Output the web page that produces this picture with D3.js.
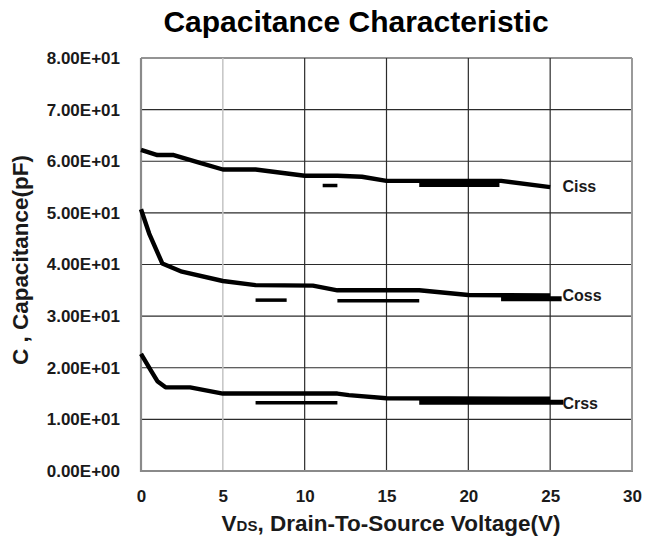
<!DOCTYPE html>
<html>
<head>
<meta charset="utf-8">
<script src="https://cdn.jsdelivr.net/npm/d3@7"></script>
<style>
  html, body { margin: 0; padding: 0; background: #fff; }
  svg { display: block; font-family: "Liberation Sans", Arial, sans-serif; }
</style>
</head>
<body>
<svg id="chart" width="659" height="538"></svg>
<script>
// ---- data ----
const xTicks = [0, 5, 10, 15, 20, 25, 30];
const yTicks = [0, 10, 20, 30, 40, 50, 60, 70, 80];
const yTickLabels = ["0.00E+00","1.00E+01","2.00E+01","3.00E+01","4.00E+01","5.00E+01","6.00E+01","7.00E+01","8.00E+01"];

const cissV = [0, 1, 2, 3.5, 5, 7, 10, 12, 13.5, 15, 22, 25];
const cissC = [62.2, 61.2, 61.2, 59.8, 58.4, 58.4, 57.2, 57.2, 57.0, 56.2, 56.2, 55.0];

const cossV = [0, 0.5, 1.3, 2.5, 5, 7, 10.5, 12, 17, 20, 25];
const cossC = [50.7, 46.0, 40.2, 38.6, 36.8, 36.0, 35.9, 35.0, 35.0, 34.1, 34.0];

const crssV = [0, 0.6, 1.0, 1.5, 3, 5, 12, 12.7, 15, 25];
const crssC = [22.7, 19.5, 17.4, 16.2, 16.2, 15.0, 15.0, 14.7, 14.1, 14.0];

// stray dash segments in the original plot: [startV, endV, C]
const cissDashes = [[11.1, 12.0, 55.3], [17.0, 21.9, 55.5]];
const cossDashes = [[7.0, 8.9, 33.1], [12.0, 17.0, 33.0], [22.0, 25.7, 33.35]];
const crssDashes = [[7.0, 12.0, 13.2], [17.0, 25.8, 13.3]];

const seriesNames = ["Ciss", "Coss", "Crss"];
const seriesLabelAt = [[25.75, 55.1], [25.75, 34.0], [25.75, 13.2]];

// ---- layout ----
const svg = d3.select("#chart");
const pL = 141, pR = 632, pT = 58, pB = 471;
const x = d3.scaleLinear().domain([0, 30]).range([pL, pR]);
const y = d3.scaleLinear().domain([0, 80]).range([pB, pT]);

// grid
const g = svg.append("g");
g.selectAll("line.hg").data(yTicks.slice(1)).join("line")
  .attr("x1", pL).attr("x2", pR)
  .attr("y1", d => y(d)).attr("y2", d => y(d))
  .attr("stroke", "#2b2b2b").attr("stroke-width", 1.2);
g.selectAll("line.vg").data(xTicks.slice(1, -1)).join("line")
  .attr("y1", pT).attr("y2", pB)
  .attr("x1", d => x(d)).attr("x2", d => x(d))
  .attr("stroke", d => d === 5 ? "#c4c4c4" : "#2b2b2b")
  .attr("stroke-width", d => d === 5 ? 1.5 : 1.2);
// border
g.append("line").attr("x1", pL).attr("x2", pL).attr("y1", pT).attr("y2", pB + 1)
  .attr("stroke", "#8a8a8a").attr("stroke-width", 2.2);
g.append("line").attr("x1", pL).attr("x2", pR + 1).attr("y1", pB).attr("y2", pB)
  .attr("stroke", "#8a8a8a").attr("stroke-width", 2.2);
g.append("line").attr("x1", pR).attr("x2", pR).attr("y1", pT).attr("y2", pB)
  .attr("stroke", "#9a9a9a").attr("stroke-width", 2);

// axes (labels only)
const yAxis = d3.axisLeft(y).tickValues(yTicks).tickFormat((d, i) => yTickLabels[i]).tickSize(0).tickPadding(0);
const ya = svg.append("g").attr("transform", "translate(120,0)").call(yAxis);
ya.select(".domain").remove();
ya.selectAll("text").attr("font-size", 17).attr("font-weight", "bold").attr("fill", "#1a1a1a")
  .attr("font-family", "Liberation Sans, Arial, sans-serif");

const xAxis = d3.axisBottom(x).tickValues(xTicks).tickFormat(d3.format("d")).tickSize(0).tickPadding(0);
const xa = svg.append("g").attr("transform", "translate(0,490)").call(xAxis);
xa.select(".domain").remove();
xa.selectAll("text").attr("font-size", 17).attr("font-weight", "bold").attr("fill", "#1a1a1a")
  .attr("font-family", "Liberation Sans, Arial, sans-serif");

// series lines
const line = d3.line().x(d => x(d[0])).y(d => y(d[1]));
const series = [
  d3.zip(cissV, cissC),
  d3.zip(cossV, cossC),
  d3.zip(crssV, crssC)
];
svg.append("g").selectAll("path").data(series).join("path")
  .attr("d", line).attr("fill", "none").attr("stroke", "#000")
  .attr("stroke-width", 4.4).attr("stroke-linejoin", "round");

// stray dashes
const dashSets = [cissDashes, cossDashes, crssDashes];
const dashWidths = [[3.5, 5], [3.5, 3.5, 5], [3.5, 5]];
dashSets.forEach((set, si) => {
  svg.append("g").selectAll("line").data(set).join("line")
    .attr("x1", d => x(d[0])).attr("x2", d => x(d[1]))
    .attr("y1", d => y(d[2])).attr("y2", d => y(d[2]))
    .attr("stroke", "#000").attr("stroke-width", (d, i) => dashWidths[si][i]);
});

// series labels
svg.append("g").selectAll("text").data(seriesNames).join("text")
  .attr("x", (d, i) => x(seriesLabelAt[i][0]))
  .attr("y", (d, i) => y(seriesLabelAt[i][1]))
  .attr("dy", "0.36em")
  .attr("font-size", 16).attr("font-weight", "bold").attr("fill", "#1a1a1a")
  .text(d => d);

// title
svg.append("text").attr("x", 356).attr("y", 32).attr("text-anchor", "middle")
  .attr("font-size", 30).attr("font-weight", "bold").attr("fill", "#000")
  .text("Capacitance Characteristic");

// x axis title
const xt = svg.append("text").attr("x", 391).attr("y", 531).attr("text-anchor", "middle")
  .attr("font-size", 22.5).attr("font-weight", "bold").attr("fill", "#1a1a1a");
xt.append("tspan").text("V");
xt.append("tspan").attr("font-size", 15).text("DS");
xt.append("tspan").text(", Drain-To-Source Voltage(V)");

// y axis title
svg.append("text").attr("transform", "translate(28,260) rotate(-90)")
  .attr("text-anchor", "middle")
  .attr("font-size", 22.5).attr("font-weight", "bold").attr("fill", "#1a1a1a")
  .text("C , Capacitance(pF)");
</script>
</body>
</html>
